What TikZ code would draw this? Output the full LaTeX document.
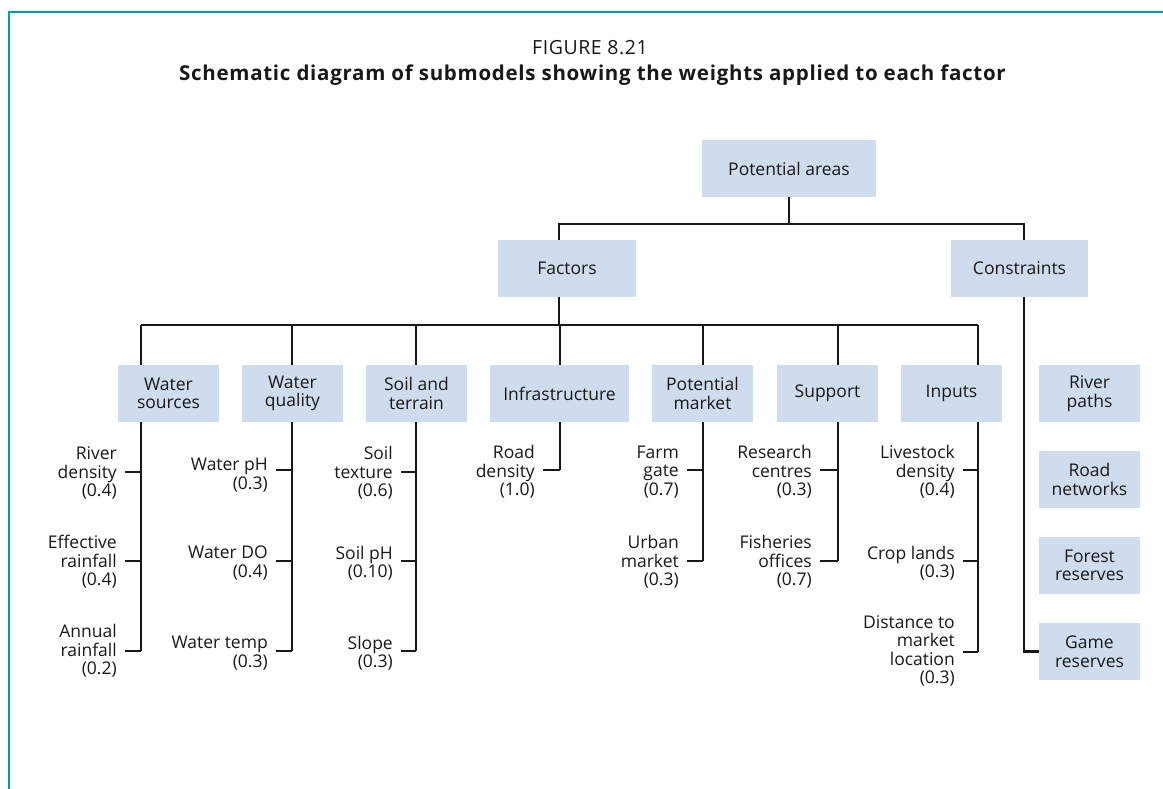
\documentclass[tikz,border=0pt]{standalone}
\usepackage{fontspec}
\setmainfont{Open Sans}
\definecolor{boxblue}{HTML}{CFDCEE}
\definecolor{framecol}{HTML}{00A19A}
\definecolor{ink}{HTML}{1A1718}
\newcommand{\leaf}[6]{%
  \coordinate (#1) at (#2,#3);
  \node[leaf, anchor=east] (#1-l) at ([xshift=-8pt,yshift=-#5pt]#1) {#6};
  \draw[conn] (#1) -- (#1 -| #4);
}
\begin{document}
\begin{tikzpicture}[x=1pt,y=-1pt,
  box/.style={fill=boxblue, inner sep=0pt, align=center, minimum height=57pt,
    font=\fontsize{17.5}{18.5}\selectfont, text=ink},
  conn/.style={draw=ink, line width=2.9pt},
  leaf/.style={align=right, inner sep=0pt, font=\fontsize{17.5}{18.5}\selectfont, text=ink}]
\useasboundingbox (0,0) rectangle (1163,789);
\draw[framecol, line width=1.5pt] (9,789) -- (9,12) -- (1163,12);

\node[font=\addfontfeature{LetterSpace=3}\fontsize{19.5}{21}\selectfont, text=ink] (fig) at (590,48) {FIGURE 8.21};
\node[font=\bfseries\addfontfeature{LetterSpace=3.5}\fontsize{20.5}{22}\selectfont, text=ink] (title) at (592.5,75)
  {Schematic diagram of submodels showing the weights applied to each factor};

% boxes
\node[box, minimum width=174pt] (pa) at (789,168.5) {Potential areas};
\node[box, minimum width=138pt] (fac) at (567,268.5) {Factors};
\node[box, minimum width=137pt] (con) at (1019.5,268.5) {Constraints};

\node[box, minimum width=101pt] (ws) at (168.5,393.5) {Water\\sources};
\node[box, minimum width=101pt] (wq) at (292.5,393.5) {Water\\quality};
\node[box, minimum width=101pt] (st) at (416.5,393.5) {Soil and\\terrain};
\node[box, minimum width=139pt] (inf) at (559.5,393.5) {Infrastructure};
\node[box, minimum width=101pt] (pm) at (702.5,393.5) {Potential\\market};
\node[box, minimum width=101pt] (sup) at (827.5,393.5) {Support};
\node[box, minimum width=101pt] (inp) at (951.5,393.5) {Inputs};

\node[box, minimum width=101pt] (rp) at (1089.5,393.5) {River\\paths};
\node[box, minimum width=101pt] (rn) at (1089.5,479.5) {Road\\networks};
\node[box, minimum width=101pt] (fr) at (1089.5,565.5) {Forest\\reserves};
\node[box, minimum width=101pt] (gr) at (1089.5,651.5) {Game\\reserves};

% junction coordinates
\coordinate (j1L) at (559,224);
\coordinate (j1R) at (1024,224);
\coordinate (h2L) at (141,325);
\coordinate (h2R) at (978,325);
\coordinate (vws) at (141,0);
\coordinate (vwq) at (292,0);
\coordinate (vst) at (416,0);
\coordinate (vinf) at (560,0);
\coordinate (vpm) at (703,0);
\coordinate (vsup) at (838,0);
\coordinate (vinp) at (978,0);

% upper tree
\draw[conn] (pa.south) -- (pa.south |- j1L);
\draw[conn] (fac.north -| j1L) -- (j1L) -- (j1R) -- (con.north -| j1R);
\draw[conn] (fac.south -| j1L) -- (j1L |- h2L);
\draw[conn] (h2L) -- (h2R);
\foreach \v/\b in {vws/ws, vwq/wq, vst/st, vinf/inf, vpm/pm, vsup/sup, vinp/inp}
  \draw[conn] (h2L -| \v) -- (\b.north -| \v);

% constraints
\draw[conn] (con.south -| j1R) |- (gr.west);

% leaves
\leaf{ws1}{125}{472}{vws}{1}{River\\density\\(0.4)}
\leaf{ws2}{125}{561}{vws}{1}{Effective\\rainfall\\(0.4)}
\leaf{ws3}{125}{651}{vws}{0}{Annual\\rainfall\\(0.2)}
\draw[conn] (ws.south -| vws) -- (ws3 -| vws);

\leaf{wq1}{276}{470}{vwq}{5}{Water pH\\(0.3)}
\leaf{wq2}{276}{561}{vwq}{2}{Water DO\\(0.4)}
\leaf{wq3}{276}{651}{vwq}{2}{Water temp\\(0.3)}
\draw[conn] (wq.south -| vwq) -- (wq3 -| vwq);

\leaf{st1}{401}{472}{vst}{1}{Soil\\texture\\(0.6)}
\leaf{st2}{401}{561}{vst}{2}{Soil pH\\(0.10)}
\leaf{st3}{401}{651}{vst}{2}{Slope\\(0.3)}
\draw[conn] (st.south -| vst) -- (st3 -| vst);

\leaf{inf1}{543}{470}{vinf}{2}{Road\\density\\(1.0)}
\draw[conn] (inf.south -| vinf) -- (inf1 -| vinf);

\leaf{pm1}{687}{470}{vpm}{2}{Farm\\gate\\(0.7)}
\leaf{pm2}{687}{561}{vpm}{1}{Urban\\market\\(0.3)}
\draw[conn] (pm.south -| vpm) -- (pm2 -| vpm);

\leaf{sup1}{820}{470}{vsup}{2}{Research\\centres\\(0.3)}
\leaf{sup2}{820}{561}{vsup}{1}{Fisheries\\offices\\(0.7)}
\draw[conn] (sup.south -| vsup) -- (sup2 -| vsup);

\leaf{inp1}{963}{470}{vinp}{2}{Livestock\\density\\(0.4)}
\leaf{inp2}{963}{561}{vinp}{2}{Crop lands\\(0.3)}
\leaf{inp3}{963}{652}{vinp}{-1}{Distance to\\market\\location\\(0.3)}
\draw[conn] (inp.south -| vinp) -- (inp3 -| vinp);
\end{tikzpicture}
\end{document}
